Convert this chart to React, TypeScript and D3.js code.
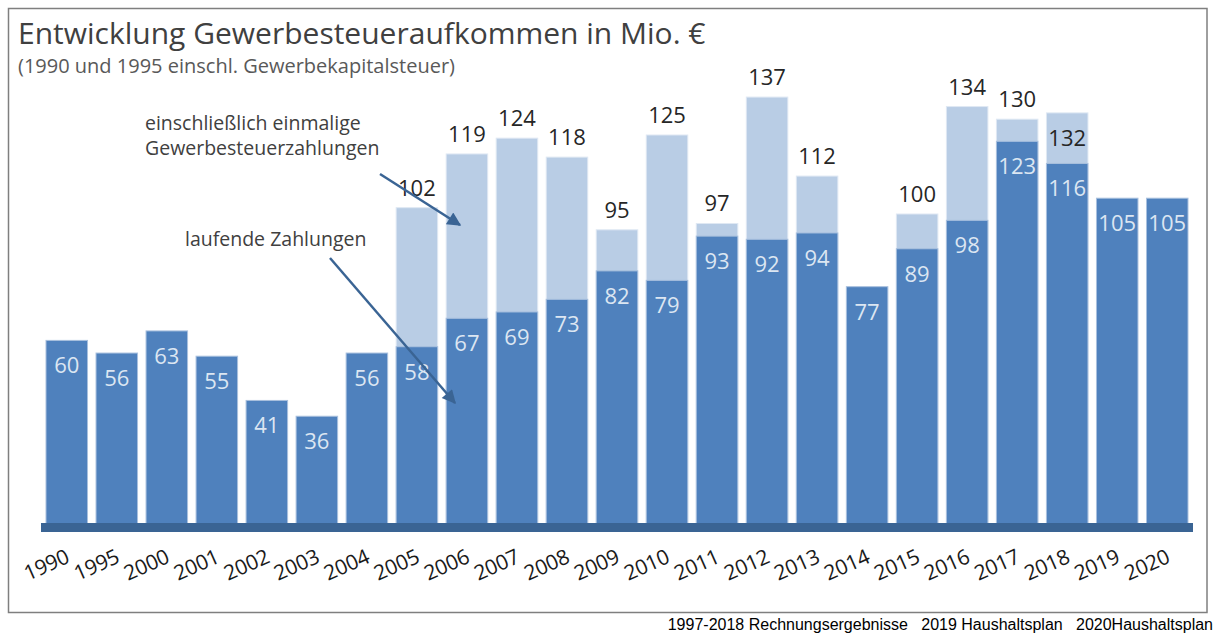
import * as d3 from 'd3';

const years = ['1990', '1995', '2000', '2001', '2002', '2003', '2004', '2005', '2006', '2007', '2008', '2009', '2010', '2011', '2012', '2013', '2014', '2015', '2016', '2017', '2018', '2019', '2020'];
// laufende Zahlungen
const laufend = [60, 56, 63, 55, 41, 36, 56, 58, 67, 69, 73, 82, 79, 93, 92, 94, 77, 89, 98, 123, 116, 105, 105];
// gesamt inkl. einmaliger Zahlungen (null = keine)
const gesamt: (number | null)[] = [null, null, null, null, null, null, null, 102, 119, 124, 118, 95, 125, 97, 137, 112, null, 100, 134, 130, 132, null, null];
// Jahre, deren Gesamtwert innerhalb des Balkens steht
const labelInside = ['2018'];

const title = 'Entwicklung Gewerbesteueraufkommen in Mio. €';
const subtitle = '(1990 und 1995 einschl. Gewerbekapitalsteuer)';
const noteOneTime = ['einschließlich einmalige', 'Gewerbesteuerzahlungen'];
const noteRunning = 'laufende Zahlungen';
const footer = '1997-2018 Rechnungsergebnisse   2019 Haushaltsplan   2020Haushaltsplan';

const W = 1217;
const H = 633;
const DARK = '#4f81bd';
const LIGHT = '#b9cde5';
const AXIS = '#3a6494';
const FONT = '"Open Sans", "Noto Sans", sans-serif';

export default function App() {
  const x = d3.scaleBand<string>()
    .domain(years)
    .range([41.75, 1192.25])
    .paddingInner(0.17)
    .paddingOuter(0.085);

  const y = d3.scaleLinear().domain([0, 140]).range([530, 87.6]);
  const bw = x.bandwidth();

  return (
    <svg width={W} height={H} style={{ position: 'absolute', left: 0, top: 0, background: '#fff' }} fontFamily={FONT}>
      <defs>
        <marker id="arrow" viewBox="0 0 10 10" refX="9" refY="5" markerWidth="7" markerHeight="5.5" markerUnits="strokeWidth" orient="auto">
          <path d="M0,0 L10,5 L0,10 z" fill={AXIS} />
        </marker>
      </defs>

      <rect x={8.5} y={8.5} width={1198.5} height={604} fill="none" stroke="#7f7f7f" strokeWidth={1.5} />

      <text x={18} y={44} fontSize={30} fill="#404040">{title}</text>
      <text x={18} y={73} fontSize={20} fill="#595959">{subtitle}</text>

      {years.map((yr, i) => {
        const x0 = x(yr)!;
        const total = gesamt[i];
        return (
          <g key={yr}>
            {total != null && (
              <rect x={x0} y={y(total)} width={bw} height={y(0) - y(total)} fill={LIGHT} stroke="#dfe8f3" strokeWidth={1} />
            )}
            <rect x={x0} y={y(laufend[i])} width={bw} height={y(0) - y(laufend[i])} fill={DARK} stroke="#a9c0de" strokeWidth={1} />
            <text x={x0 + bw / 2} y={y(laufend[i]) + 33} textAnchor="middle" fontSize={22} fill="#dce6f2">{laufend[i]}</text>
            {total != null && (
              labelInside.includes(yr)
                ? <text x={x0 + bw / 2} y={y(total) + 33} textAnchor="middle" fontSize={22} fill="#262626">{total}</text>
                : <text x={x0 + bw / 2} y={y(total) - 12} textAnchor="middle" fontSize={22} fill="#262626">{total}</text>
            )}
            <text
              transform={`translate(${x0 + bw / 2 + 4},${562}) rotate(-24)`}
              textAnchor="end"
              fontSize={21}
              letterSpacing={-0.3}
              fill="#1a1a1a"
            >{yr}</text>
          </g>
        );
      })}

      <rect x={41} y={523} width={1152} height={9} fill={AXIS} />

      {noteOneTime.map((t, i) => (
        <text key={t} x={145} y={130 + i * 25} fontSize={19.5} fill="#404040">{t}</text>
      ))}
      <text x={185} y={246} fontSize={19.5} fill="#404040">{noteRunning}</text>

      <line x1={380} y1={174} x2={460} y2={225} stroke={AXIS} strokeWidth={2.5} markerEnd="url(#arrow)" />
      <line x1={330} y1={258} x2={455} y2={403} stroke={AXIS} strokeWidth={2.5} markerEnd="url(#arrow)" />

      <text x={1213} y={630} textAnchor="end" fontSize={16} fontFamily='"Liberation Sans", Arial, sans-serif' fill="#000" style={{ whiteSpace: 'pre' }}>{footer}</text>
    </svg>
  );
}
